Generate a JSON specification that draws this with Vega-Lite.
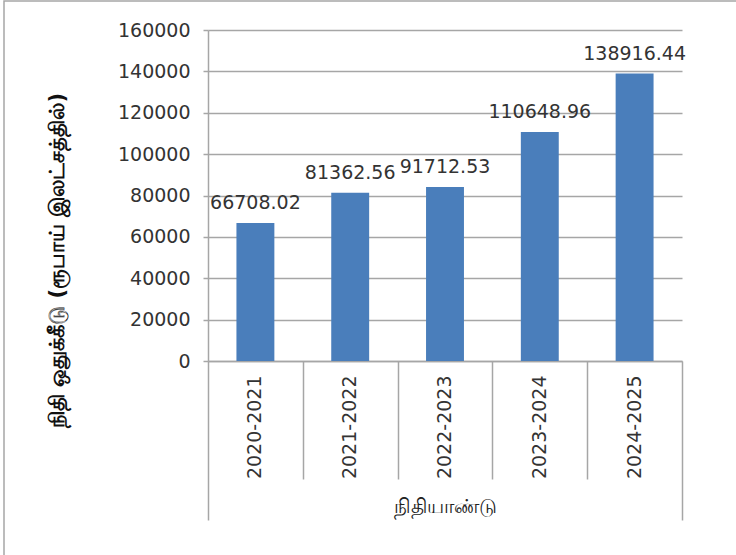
{
  "$schema": "https://vega.github.io/schema/vega-lite/v6.json",
  "autosize": {"type": "none"},
  "padding": {"left": 4, "top": 1, "right": 0, "bottom": 0},
  "width": 740,
  "height": 565,
  "background": "white",
  "config": {
    "view": {"stroke": "#a6a6a6", "strokeWidth": 1.5},
    "axis": {"labelFont": "DejaVu Sans", "titleFont": "DejaVu Sans"}
  },
  "data": {
    "values": [
      {"year": "2020-2021", "value": 66708.02, "label": "66708.02"},
      {"year": "2021-2022", "value": 81362.56, "label": "81362.56"},
      {"year": "2022-2023", "value": 84100, "label": "91712.53"},
      {"year": "2023-2024", "value": 110648.96, "label": "110648.96"},
      {"year": "2024-2025", "value": 138916.44, "label": "138916.44"}
    ]
  },
  "layer": [
    {
      "mark": {"type": "bar", "color": "#4A7EBB", "width": {"band": 0.4}},
      "encoding": {
        "x": {
          "field": "year", "type": "nominal", "sort": null,
          "scale": {"range": [204, 678], "paddingInner": 0, "paddingOuter": 0},
          "axis": {
            "orient": "bottom", "offset": -205,
            "ticks": false, "domain": true, "domainColor": "#a6a6a6", "domainWidth": 1.5,
            "labelAngle": -90, "labelAlign": "right", "labelBaseline": "middle",
            "labelPadding": 14, "labelFontSize": 19, "labelColor": "#333333",
            "title": "நிதியாண்டு", "titleFontSize": 20, "titleFontWeight": "normal",
            "titleColor": "#222222", "titleX": 441, "titleY": 145,
            "titleBaseline": "middle", "titleAlign": "center", "grid": false
          }
        },
        "y": {
          "field": "value", "type": "quantitative",
          "scale": {"domain": [0, 160000], "range": [360, 29], "nice": false},
          "axis": {
            "orient": "left", "offset": -204,
            "values": [0, 20000, 40000, 60000, 80000, 100000, 120000, 140000, 160000],
            "format": "d",
            "grid": true, "gridColor": "#a6a6a6", "gridWidth": 1.5,
            "domain": true, "domainColor": "#a6a6a6", "domainWidth": 1.5,
            "ticks": true, "tickSize": 5, "tickColor": "#a6a6a6", "tickWidth": 1.5,
            "labelPadding": 13, "labelFontSize": 19, "labelColor": "#333333",
            "title": "நிதி ஒதுக்கீடு (ரூபாய் இலட்சத்தில்)",
            "titleFontSize": 21, "titleFontWeight": "bold", "titleColor": "#111111",
            "titleAngle": 270, "titleX": -151, "titleY": 259,
            "titleBaseline": "middle", "titleAlign": "center"
          }
        }
      }
    },
    {
      "mark": {"type": "text", "font": "DejaVu Sans", "fontSize": 19, "color": "#333333", "baseline": "alphabetic", "dy": -14},
      "encoding": {
        "x": {
          "field": "year", "type": "nominal", "sort": null,
          "axis": {
            "orient": "bottom", "offset": -205,
            "labels": false, "domain": false, "grid": false, "title": null,
            "ticks": true, "tickBand": "extent", "tickColor": "#a6a6a6", "tickWidth": 1.5,
            "tickSize": {"condition": {"test": "datum.extra || datum.value === '2024-2025'", "value": 159}, "value": 118}
          }
        },
        "y": {"field": "value", "type": "quantitative"},
        "text": {"field": "label"}
      }
    }
  ],
  "resolve": {"axis": {"x": "independent"}}
}
